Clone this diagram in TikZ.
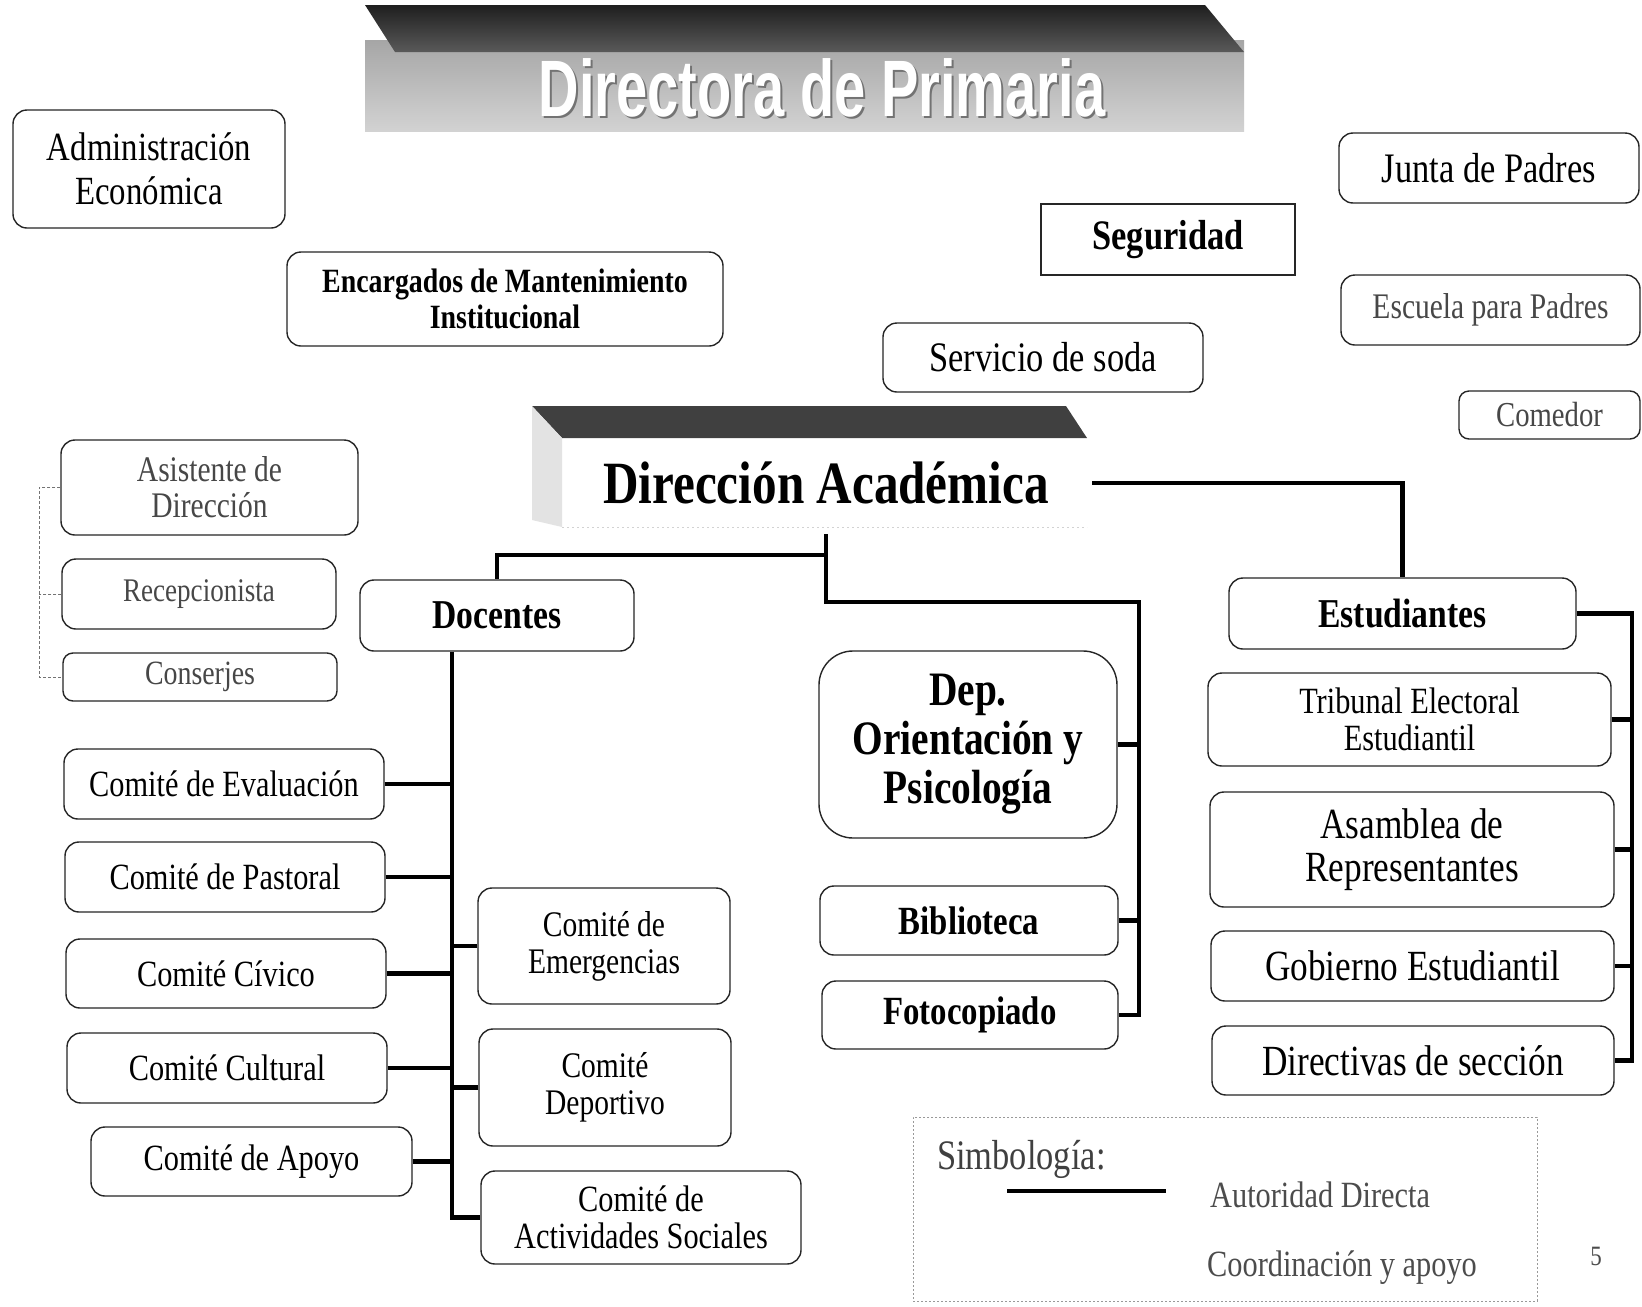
\documentclass[tikz,border=0pt]{standalone}
\usepackage{fontspec}
\setmainfont{Liberation Serif}[FakeStretch=0.82]
\newfontfamily\bannerfont{Liberation Sans}[FakeStretch=0.7]
\newcommand\setfs[2]{\fontsize{#1}{#2}\selectfont}
\begin{document}
\begin{tikzpicture}[x=1pt,y=-1pt,
  box/.style={draw=black!85, line width=1.4pt, rounded corners=14pt, align=center, inner sep=0pt, text=black},
  sqbox/.style={box, rounded corners=0pt},
  faded/.style={text=black!72},
  auth/.style={line width=4.8pt, black},
  coord/.style={line width=0.9pt, black!55, dash pattern=on 3pt off 2pt}]

% canvas
\fill[white] (0,0) rectangle (1642,1307);
\useasboundingbox (0,0) rectangle (1642,1307);

% ---------- top banner ----------
\shade[top color=gray!70, bottom color=gray!35] (365,40) rectangle (1244,131);
\shade[top color=black!88, bottom color=black!65] (365,5) -- (1205,5) -- (1244,52) -- (395,52) -- cycle;
\node[text=black!55, font=\bannerfont\bfseries\setfs{80}{80}] (titsombra) at (824,90) {Directora de Primaria};
\node[text=white, font=\bannerfont\bfseries\setfs{80}{80}] (titulo) at (822,88) {Directora de Primaria};

% ---------- upper boxes ----------
\node[box, minimum width=272pt, minimum height=118pt, font=\setfs{40}{44}] (admin) at (149,169) {Administración\\Económica};
\node[box, minimum width=436pt, minimum height=94pt, font=\bfseries\setfs{34}{36}] (mant) at (505,299) {Encargados de Mantenimiento\\Institucional};
\node[sqbox, minimum width=254pt, minimum height=71pt, font=\bfseries\setfs{42}{44}] (seg) at (1168,239.5) {Seguridad};
\node[box, minimum width=320pt, minimum height=69pt, font=\setfs{42}{44}] (soda) at (1043,357.5) {Servicio de soda};
\node[box, minimum width=300pt, minimum height=70pt, font=\setfs{42}{44}] (junta) at (1489,168) {Junta de Padres};
\node[box, faded, minimum width=299pt, minimum height=70pt, font=\setfs{36}{38}] (escuela) at (1490.5,310) {Escuela para Padres};
\node[box, faded, minimum width=181pt, minimum height=48pt, rounded corners=10pt, font=\setfs{35}{36}] (comedor) at (1549.5,415) {Comedor};

% ---------- academic direction banner ----------
\fill[black!75] (532,406) -- (1066,406) -- (1087,438) -- (562,438) -- cycle;
\fill[gray!22] (532,406) -- (562,438) -- (562,527) -- (532,520) -- cycle;
\draw[gray!35, line width=0.8pt, dash pattern=on 2pt off 3pt] (562,527) -- (1087,527);
\node[minimum width=532pt, minimum height=102pt, inner sep=0pt, font=\bfseries\setfs{60}{62}] (dirac) at (826,483) {Dirección Académica};

% ---------- administrative staff ----------
\node[box, faded, minimum width=297pt, minimum height=95pt, font=\setfs{36}{36}] (asist) at (209.5,487.5) {Asistente de\\Dirección};
\node[box, faded, minimum width=274pt, minimum height=70pt, font=\setfs{33}{35}] (recep) at (199,594) {Recepcionista};
\node[box, faded, minimum width=274pt, minimum height=48pt, rounded corners=10pt, font=\setfs{34}{36}] (conser) at (200,677) {Conserjes};

% ---------- teachers ----------
\node[box, minimum width=274pt, minimum height=71pt, font=\bfseries\setfs{41}{43}] (docentes) at (497,615.5) {Docentes};
\node[box, minimum width=320pt, minimum height=70pt, font=\setfs{37}{39}] (ceval) at (224,784) {Comité de Evaluación};
\node[box, minimum width=320pt, minimum height=70pt, font=\setfs{37}{39}] (cpast) at (225,877) {Comité de Pastoral};
\node[box, minimum width=320pt, minimum height=69pt, font=\setfs{37}{39}] (cciv) at (226,973.5) {Comité Cívico};
\node[box, minimum width=320pt, minimum height=70pt, font=\setfs{37}{39}] (ccult) at (227,1068) {Comité Cultural};
\node[box, minimum width=321pt, minimum height=69pt, font=\setfs{37}{39}] (capoyo) at (251.5,1161.5) {Comité de Apoyo};
\node[box, minimum width=252pt, minimum height=116pt, font=\setfs{36}{37}] (cemerg) at (604,946) {Comité de\\Emergencias};
\node[box, minimum width=252pt, minimum height=117pt, font=\setfs{36}{37}] (cdep) at (605,1087.5) {Comité\\Deportivo};
\node[box, minimum width=320pt, minimum height=93pt, font=\setfs{37}{37}] (cact) at (641,1217.5) {Comité de\\Actividades Sociales};

% ---------- support departments ----------
\node[box, minimum width=298pt, minimum height=187pt, rounded corners=34pt, font=\bfseries\setfs{48}{49}] (dep) at (968,744.5) {Dep.\\Orientación y\\Psicología};
\node[box, minimum width=298pt, minimum height=69pt, font=\bfseries\setfs{40}{42}] (bib) at (969,920.5) {Biblioteca};
\node[box, minimum width=296pt, minimum height=68pt, font=\bfseries\setfs{40}{42}] (foto) at (970,1015) {Fotocopiado};

% ---------- students ----------
\node[box, minimum width=347pt, minimum height=71pt, font=\bfseries\setfs{41}{43}] (estud) at (1402.5,613.5) {Estudiantes};
\node[box, minimum width=403pt, minimum height=93pt, font=\setfs{37}{37}] (trib) at (1409.5,719.5) {Tribunal Electoral\\Estudiantil};
\node[box, minimum width=404pt, minimum height=115pt, font=\setfs{43}{43}] (asam) at (1412,849.5) {Asamblea de\\Representantes};
\node[box, minimum width=403pt, minimum height=70pt, font=\setfs{43}{45}] (gob) at (1412.5,966) {Gobierno Estudiantil};
\node[box, minimum width=402pt, minimum height=69pt, font=\setfs{43}{45}] (dirsec) at (1413,1060.5) {Directivas de sección};

% ---------- bus coordinates ----------
\coordinate (split) at (826,555);
\coordinate (mbus) at (1139,602);
\coordinate (lbus) at (452,0);
\coordinate (rbus) at (1632,0);
\coordinate (dbus) at (39,0);

% ---------- direct authority ----------
\draw[auth] (dirac.south) -- (split) -| (docentes.north);
\draw[auth] (split) |- (mbus) |- (foto.east);
\draw[auth] (dep.east) -- (dep.east -| mbus);
\draw[auth] (bib.east) -- (bib.east -| mbus);

\draw[auth] (dirac.east) -| (estud.north);
\draw[auth] (estud.east) -- (estud.east -| rbus) |- (dirsec.east);
\draw[auth] (trib.east) -- (trib.east -| rbus);
\draw[auth] (asam.east) -- (asam.east -| rbus);
\draw[auth] (gob.east) -- (gob.east -| rbus);

\draw[auth] (docentes.south -| lbus) |- (cact.west);
\foreach \c in {ceval,cpast,cciv,ccult,capoyo}
  \draw[auth] (\c.east) -- (\c.east -| lbus);
\foreach \c in {cemerg,cdep}
  \draw[auth] (\c.west) -- (\c.west -| lbus);

% ---------- coordination and support ----------
\draw[coord] (asist.west) -- (asist.west -| dbus) |- (conser.west);
\draw[coord] (recep.west) -- (recep.west -| dbus);

% ---------- legend ----------
\node[draw=black!40, line width=0.8pt, dash pattern=on 2pt off 2pt, minimum width=624pt, minimum height=184pt, inner sep=0pt] (leyenda) at (1225,1209) {};
\node[anchor=west, inner sep=0pt, text=black!75, font=\setfs{42}{44}] (simb) at (937,1159) {Simbología:};
\coordinate (lgA) at (1007,1191);
\coordinate (lgB) at (1166,1191);
\draw[auth, line width=3.6pt] (lgA) -- (lgB);
\node[anchor=west, inner sep=0pt, text=black!70, font=\setfs{37}{40}] (autdir) at (1210,1195) {Autoridad Directa};
\node[anchor=west, inner sep=0pt, text=black!70, font=\setfs{37}{40}] (coorap) at (1207,1268) {Coordinación y apoyo};
\node[text=black!70, font=\setfs{28}{30}] (pagina) at (1596,1256) {5};

\end{tikzpicture}
\end{document}
